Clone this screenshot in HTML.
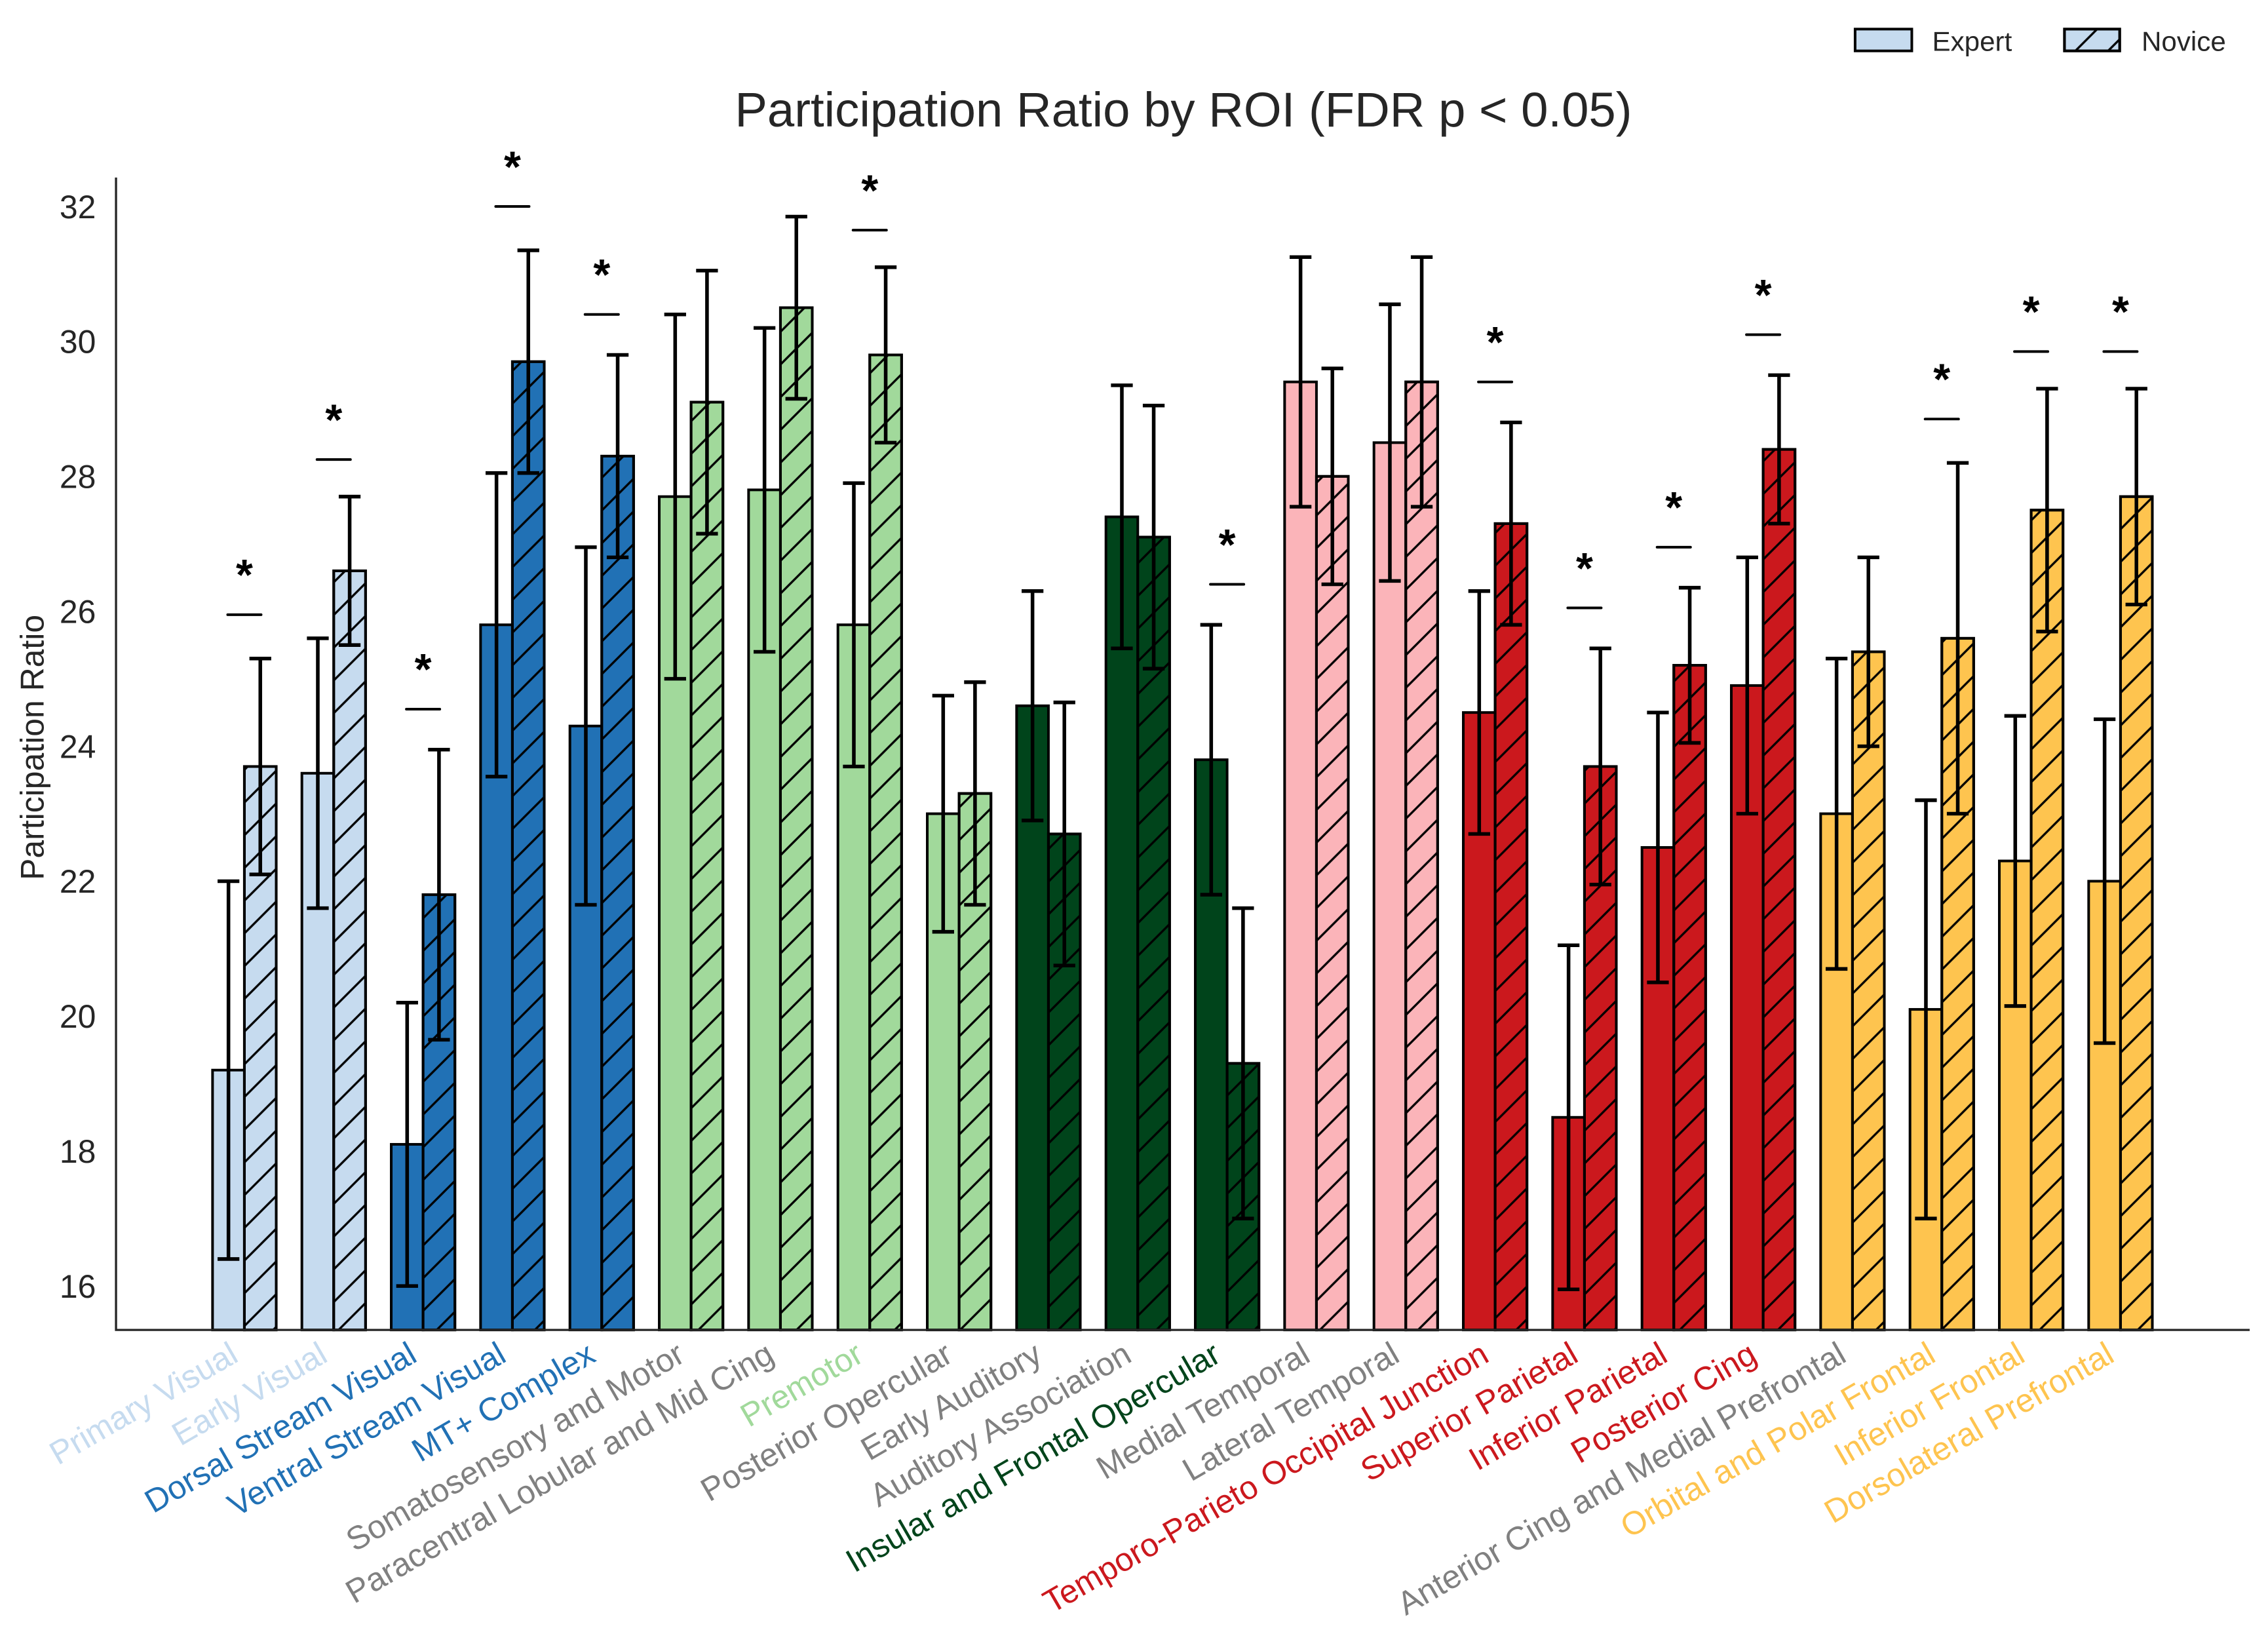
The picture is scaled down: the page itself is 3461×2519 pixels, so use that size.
<!DOCTYPE html>
<html><head><meta charset="utf-8"><style>html,body{margin:0;padding:0;background:#fff}svg{display:block}text{font-family:"Liberation Sans",Arial,sans-serif}</style></head>
<body>
<svg id="chart" width="3461" height="2519" viewBox="0 0 1560 1135.4" xmlns="http://www.w3.org/2000/svg">
<defs>
<pattern id="hatch" patternUnits="userSpaceOnUse" width="22.5" height="22.5">
<path d="M-3,3 L3,-3 M0,22.5 L22.5,0 M19.5,25.5 L25.5,19.5" stroke="#000" stroke-width="1.5"/>
</pattern>
</defs>
<text x="814" y="87" font-size="33.5" text-anchor="middle" fill="#262626">Participation Ratio by ROI (FDR p &lt; 0.05)</text>
<text transform="translate(30,514) rotate(-90)" font-size="22.5" text-anchor="middle" fill="#262626">Participation Ratio</text>
<g id="legend">
<rect x="1276" y="20" width="39" height="15" fill="#c6dbef" stroke="#000" stroke-width="1.8"/>
<text x="1329" y="35" font-size="19" fill="#262626">Expert</text>
<rect x="1420" y="20" width="38" height="15" fill="#c6dbef" stroke="#000" stroke-width="1.8"/>
<rect x="1420" y="20" width="38" height="15" fill="url(#hatch)" stroke="#000" stroke-width="1.8"/>
<text x="1473" y="35" font-size="19" fill="#262626">Novice</text>
</g>
<g id="plot"></g>
</svg>
<script>
const categories = ["Primary Visual","Early Visual","Dorsal Stream Visual","Ventral Stream Visual","MT+ Complex","Somatosensory and Motor","Paracentral Lobular and Mid Cing","Premotor","Posterior Opercular","Early Auditory","Auditory Association","Insular and Frontal Opercular","Medial Temporal","Lateral Temporal","Temporo-Parieto Occipital Junction","Superior Parietal","Inferior Parietal","Posterior Cing","Anterior Cing and Medial Prefrontal","Orbital and Polar Frontal","Inferior Frontal","Dorsolateral Prefrontal"];
const expertValues = [19.2,23.6,18.1,25.8,24.3,27.7,27.8,25.8,23.0,24.6,27.4,23.8,29.4,28.5,24.5,18.5,22.5,24.9,23.0,20.1,22.3,22.0];
const expertErr = [2.8,2.0,2.1,2.25,2.65,2.7,2.4,2.1,1.75,1.7,1.95,2.0,1.85,2.05,1.8,2.55,2.0,1.9,2.3,3.1,2.15,2.4];
const noviceValues = [23.7,26.6,21.8,29.7,28.3,29.1,30.5,29.8,23.3,22.7,27.1,19.3,28.0,29.4,27.3,23.7,25.2,28.4,25.4,25.6,27.5,27.7];
const noviceErr = [1.6,1.1,2.15,1.65,1.5,1.95,1.35,1.3,1.65,1.95,1.95,2.3,1.6,1.85,1.5,1.75,1.15,1.1,1.4,2.6,1.8,1.6];
const significant = [1,1,1,1,1,0,0,1,0,0,0,1,0,0,1,1,1,1,0,1,1,1];
const sigLevels = [25.95,28.25,24.55,32.0,30.4,0,0,31.65,0,0,0,26.4,0,0,29.4,26.05,26.95,30.1,0,28.85,29.85,29.85];
const groupColors = ["#c6dbef","#c6dbef","#2171b5","#2171b5","#2171b5","#a1d99b","#a1d99b","#a1d99b","#a1d99b","#00441b","#00441b","#00441b","#fbb4b9","#fbb4b9","#cb181d","#cb181d","#cb181d","#cb181d","#fec44f","#fec44f","#fec44f","#fec44f"];
const yTicks = [16,18,20,22,24,26,28,30,32];

const NS="http://www.w3.org/2000/svg";
const plot=document.getElementById('plot');
const yBottom=914.6, yTop=122.1;
const y16=884.4, y32=142;
function y(v){return y16+(v-16)*(y32-y16)/16;}
const x0=168.1, step=61.45, bw=21.9;
function x(i){return x0+i*step;}
function mk(tag,attrs,parent){const e=document.createElementNS(NS,tag);for(const k in attrs)e.setAttribute(k,attrs[k]);(parent||plot).appendChild(e);return e;}

yTicks.forEach(t=>{
  const tl=mk('text',{x:66,y:y(t)+8,'font-size':22.5,'text-anchor':'end',fill:'#262626'});
  
  
  tl.textContent=t;
});

function errbar(cx,v,e){
  const g=mk('g',{});
  
  
  mk('line',{x1:cx,x2:cx,y1:y(v-e),y2:y(v+e),stroke:'#000','stroke-width':2.5},g);
  mk('line',{x1:cx-7.5,x2:cx+7.5,y1:y(v-e),y2:y(v-e),stroke:'#000','stroke-width':2.5},g);
  mk('line',{x1:cx-7.5,x2:cx+7.5,y1:y(v+e),y2:y(v+e),stroke:'#000','stroke-width':2.5},g);
}

categories.forEach((c,i)=>{
  const cx=x(i), col=groupColors[i];
  const ey=y(expertValues[i]);
  const eb=mk('rect',{x:cx-bw,y:ey,width:bw,height:yBottom-ey,fill:col,stroke:'#000','stroke-width':1.8});
  
  
  const ny=y(noviceValues[i]);
  const nb=mk('rect',{x:cx,y:ny,width:bw,height:yBottom-ny,fill:col,stroke:'#000','stroke-width':1.8});
  
  
  const nh=mk('rect',{x:cx,y:ny,width:bw,height:yBottom-ny,fill:'url(#hatch)',stroke:'#000','stroke-width':1.8});
  
  
  errbar(cx-bw/2,expertValues[i],expertErr[i]);
  errbar(cx+bw/2,noviceValues[i],noviceErr[i]);
  if(significant[i]){
    const sy=y(sigLevels[i]);
    const sl=mk('line',{x1:cx-11.5,x2:cx+11.5,y1:sy,y2:sy,stroke:'#000','stroke-width':1.8,'stroke-linecap':'round'});
    
    
    const st=mk('text',{x:cx,y:sy-17,'font-size':30,'font-weight':'bold','text-anchor':'middle',fill:'#000'});
    
    
    st.textContent='*';
  }
  const lb=mk('text',{transform:`translate(${cx-3},${yBottom+21}) rotate(-30)`,'font-size':22.5,'text-anchor':'end',fill:significant[i]?col:'#808080'});
  
  
  lb.textContent=c;
});

const ax=mk('path',{d:`M79.8,${yTop} L79.8,${yBottom} L1547.4,${yBottom}`,fill:'none',stroke:'#262626','stroke-width':1.5});


</script>
</body></html>
